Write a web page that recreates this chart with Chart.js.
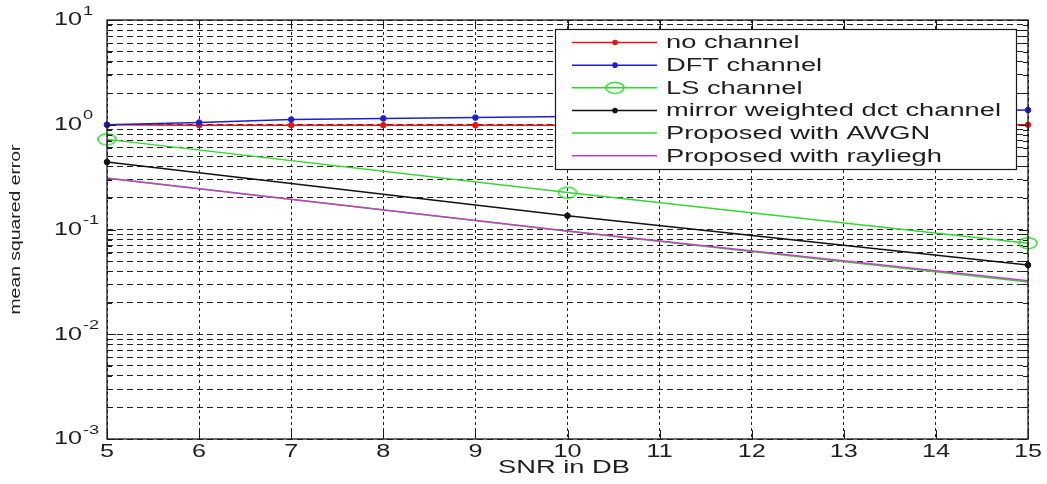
<!DOCTYPE html>
<html><head><meta charset="utf-8">
<script src="https://cdn.jsdelivr.net/npm/chart.js@4/dist/chart.umd.min.js"></script>
<style>html,body{margin:0;padding:0;background:#fff;overflow:hidden}#wrap{width:1047px;height:484px;position:relative}</style>
</head><body><div id="wrap"><canvas id="c" width="1047" height="484"></canvas></div>
<script>
// ---- data ----
const snrAll = [5,6,7,8,9,10,11,12,13,14,15];
const snrCoarse = [5,10,15];
const noChannel = [1.0,0.99,0.99,0.99,0.99,0.99,0.99,0.99,0.99,0.99,1.0];
const dftChannel = [1.0,1.05,1.12,1.15,1.17,1.2,1.23,1.27,1.31,1.35,1.38];
const lsChannel = [0.725,0.225,0.074];
const mirrorDct = [0.44,0.1355,0.0458];
const proposedAwgn = [0.31,0.096,0.0316];
const proposedRayleigh = [0.308,0.097,0.0325];
const seriesLabels = ['no channel','DFT channel','LS channel','mirror weighted dct channel','Proposed with AWGN','Proposed with rayliegh'];
const xTickValues = [5,6,7,8,9,10,11,12,13,14,15];
const xTickLabels = ['5','6','7','8','9','10','11','12','13','14','15'];
const yDecadeValues = [0.001,0.01,0.1,1,10];
const yDecadeExponents = ['-3','-2','-1','0','1'];
const yMinorSignificands = [2,3,4,5,6,7,8,9];
const xTitle = 'SNR in DB';
const yTitle = 'mean squared error';

const FONT = '"Liberation Sans", Arial, Helvetica, sans-serif';
const TXT = '#1e1e1e';

function pts(xs, ys){ return xs.map((x,i)=>({x:x, y:ys[i]})); }
function ellipseMarker(color){
  const c=document.createElement('canvas'); c.width=22; c.height=14;
  const g=c.getContext('2d'); g.strokeStyle=color; g.lineWidth=1.5;
  g.beginPath(); g.ellipse(11,7,9,5.5,0,0,2*Math.PI); g.stroke(); return c;
}
const RED='rgb(230,20,20)', BLUE='rgb(30,30,210)', GREEN='rgb(50,215,50)', BLACK='#111', MAG='rgb(200,60,200)';
const ds = (i, xs, ys, color, style, radius) => ({
  label: seriesLabels[i], data: pts(xs, ys), borderColor: color, backgroundColor: color,
  borderWidth: 1.5, pointStyle: style, pointRadius: radius, pointBorderWidth: 1,
  pointBackgroundColor: color, pointBorderColor: color, tension: 0, clip: false, order: 10 - i
});
const datasets = [
  ds(0, snrAll, noChannel, RED, 'circle', 2.8),
  ds(1, snrAll, dftChannel, BLUE, 'circle', 2.8),
  ds(2, snrCoarse, lsChannel, GREEN, ellipseMarker(GREEN), 7),
  ds(3, snrCoarse, mirrorDct, BLACK, 'circle', 2.8),
  ds(4, snrCoarse, proposedAwgn, GREEN, false, 0),
  ds(5, snrCoarse, proposedRayleigh, MAG, false, 0)
];

function sText(ctx, str, x, y, align, sx, font){
  ctx.save(); ctx.font = font; ctx.translate(x,y); ctx.scale(sx,1);
  ctx.textAlign=align; ctx.textBaseline='middle'; ctx.fillStyle=TXT; ctx.fillText(str,0,0); ctx.restore();
}
function stretchFor(ctx, str, font, target){ ctx.save(); ctx.font=font; const w=ctx.measureText(str).width; ctx.restore(); return target/w; }

const legendPlugin = {
  id:'boxLegend',
  afterDatasetsDraw(chart){
    const ctx=chart.ctx;
    const L=555.5, T=29.5, R=1016.5, B=169.5;
    ctx.save();
    ctx.fillStyle='#fff'; ctx.fillRect(L,T,R-L,B-T);
    ctx.strokeStyle='#1a1a1a'; ctx.lineWidth=1.2; ctx.strokeRect(L,T,R-L,B-T);
    const f='18px '+FONT;
    const sx = stretchFor(ctx, seriesLabels[3], f, 335);
    chart.data.datasets.forEach((d,i)=>{
      const y = 42.5 + i*22.65;
      ctx.strokeStyle=d.borderColor; ctx.lineWidth=1.5;
      ctx.beginPath(); ctx.moveTo(572,y); ctx.lineTo(657,y); ctx.stroke();
      if (d.pointStyle instanceof HTMLCanvasElement){
        ctx.drawImage(d.pointStyle, 615-d.pointStyle.width/2, y-d.pointStyle.height/2);
      } else if (d.pointStyle && d.pointRadius>0){
        ctx.fillStyle=d.borderColor; ctx.beginPath(); ctx.arc(615,y,d.pointRadius,0,2*Math.PI); ctx.fill();
      }
      sText(ctx, d.label, 666, y+1, 'left', sx, f);
    });
    ctx.restore();
  }
};

const axesPlugin = {
  id:'axesDeco',
  afterDraw(chart){
    const ctx=chart.ctx, a=chart.chartArea, xs=chart.scales.x, ys=chart.scales.y;
    ctx.save();
    ctx.strokeStyle='#1a1a1a'; ctx.lineWidth=1.3;
    ctx.strokeRect(a.left, a.top, a.right-a.left, a.bottom-a.top);
    ctx.lineWidth=1;
    ctx.beginPath();
    xs.ticks.forEach(t=>{ const x=Math.round(xs.getPixelForValue(t.value))+0.5;
      ctx.moveTo(x,a.bottom); ctx.lineTo(x,a.bottom-9); ctx.moveTo(x,a.top); ctx.lineTo(x,a.top+9); });
    ys.ticks.forEach(t=>{ const y=Math.round(ys.getPixelForValue(t.value))+0.5;
      const major = yDecadeValues.some(v=>Math.abs(v-t.value)<1e-12); const len = major?9:5;
      ctx.moveTo(a.left,y); ctx.lineTo(a.left+len,y); ctx.moveTo(a.right,y); ctx.lineTo(a.right-len,y); });
    ctx.stroke();
    // x tick labels
    const fx='18px '+FONT; const sxx = stretchFor(ctx,'10',fx,28);
    xTickValues.forEach((v,i)=> sText(ctx, xTickLabels[i], xs.getPixelForValue(v), 452, 'center', sxx, fx));
    // y tick labels with superscripts
    const fs='13px '+FONT;
    yDecadeValues.forEach((v,i)=>{ const y=ys.getPixelForValue(v);
      sText(ctx,'10',82,y+0.5,'right',sxx,fx);
      sText(ctx,yDecadeExponents[i],83,y-9,'left',sxx,fs);
    });
    // titles
    const ft='18px '+FONT;
    sText(ctx, xTitle, 564, 468, 'center', stretchFor(ctx,xTitle,ft,132), ft);
    const fy='15px '+FONT;
    const sl = stretchFor(ctx,yTitle,fy,170);
    ctx.save(); ctx.translate(16,(a.top+a.bottom)/2); ctx.rotate(-Math.PI/2);
    ctx.font=fy; ctx.scale(sl,1); ctx.textAlign='center'; ctx.textBaseline='middle'; ctx.fillStyle=TXT;
    ctx.fillText(yTitle,0,0); ctx.restore();
    ctx.restore();
  }
};

new Chart(document.getElementById('c'), {
  type:'line',
  data:{ datasets },
  options:{
    responsive:false, animation:false, devicePixelRatio:1,
    layout:{ padding:{ left:0, right:19, top:20, bottom:0 } },
    plugins:{ legend:{display:false}, tooltip:{enabled:false} },
    scales:{
      x:{ type:'linear', min:5, max:15,
        afterBuildTicks: s=>{ s.ticks = xTickValues.map(v=>({value:v})); },
        afterFit: s=>{ s.height = 45; },
        ticks:{ display:false, autoSkip:false },
        grid:{ color:'#222', lineWidth:1, drawTicks:false },
        border:{ display:false, dash:[3,3] } },
      y:{ type:'logarithmic', min:0.001, max:10,
        afterBuildTicks: s=>{ const t=[]; yDecadeValues.forEach((d,i)=>{ t.push({value:d}); if(i<yDecadeValues.length-1) yMinorSignificands.forEach(m=>t.push({value:m*d})); }); s.ticks=t; },
        afterFit: s=>{ s.width = 107; },
        ticks:{ display:false, autoSkip:false },
        grid:{ color:'#222', lineWidth:1, drawTicks:false },
        border:{ display:false, dash:[6,4] } }
    }
  },
  plugins:[legendPlugin, axesPlugin]
});
</script></body></html>
